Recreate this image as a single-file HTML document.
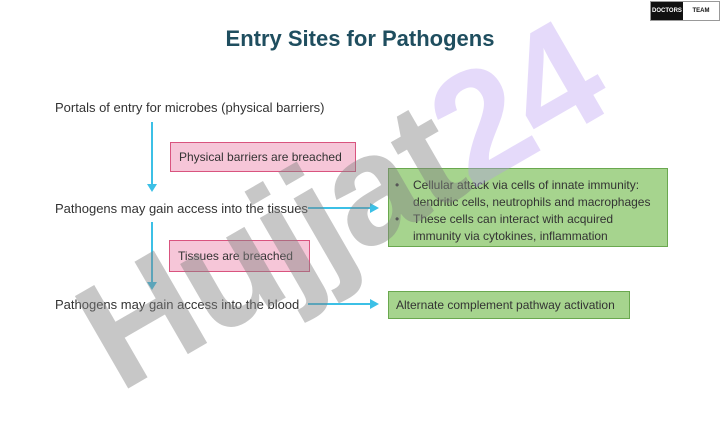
<!DOCTYPE html>
<html><head><style>
body{margin:0;width:720px;height:405px;background:#fff;position:relative;overflow:hidden;font-family:"Liberation Sans",sans-serif;}
.t{position:absolute;font-size:13px;color:#333;white-space:nowrap;}
.box{position:absolute;box-sizing:border-box;font-size:12px;color:#333;white-space:nowrap;}
.pink{background:#f6c6d8;border:1px solid #d9547f;}
.green{background:#a6d48e;border:1px solid #6aa84f;}
</style></head><body>
<div style="position:absolute;left:650px;top:1px;width:68px;height:18px;border:1px solid #999;display:flex;font-size:6px;font-weight:bold;">
<div style="background:#111;color:#fff;width:32px;line-height:18px;text-align:center">DOCTORS</div>
<div style="flex:1;line-height:18px;text-align:center;color:#111">TEAM</div></div>
<div style="position:absolute;left:0;width:720px;top:26px;text-align:center;font-size:22px;font-weight:bold;color:#1f4e5f">Entry Sites for Pathogens</div>
<div class="t" style="left:55px;top:100px">Portals of entry for microbes (physical barriers)</div>
<div class="t" style="left:55px;top:201px">Pathogens may gain access into the tissues</div>
<div class="t" style="left:55px;top:297px">Pathogens may gain access into the blood</div>
<div class="box pink" style="left:170px;top:142px;width:186px;height:30px;padding:7px 0 0 8px">Physical barriers are breached</div>
<div class="box pink" style="left:169px;top:240px;width:141px;height:32px;padding:8px 0 0 8px">Tissues are breached</div>
<div class="box green" style="left:388px;top:168px;width:280px;height:79px;padding:8px 0 0 6px;line-height:17px">
<div style="display:flex"><span style="width:18px">•</span><span>Cellular attack via cells of innate immunity:<br>dendritic cells, neutrophils and macrophages</span></div>
<div style="display:flex"><span style="width:18px">•</span><span>These cells can interact with acquired<br>immunity via cytokines, inflammation</span></div></div>
<div class="box green" style="left:388px;top:291px;width:242px;height:28px;padding:6px 0 0 7px">Alternate complement pathway activation</div>
<svg style="position:absolute;left:0;top:0" width="720" height="405">
<g stroke="#3cc0e6" stroke-width="2" fill="#3cc0e6">
<line x1="152" y1="122" x2="152" y2="186"/><polygon points="147,184 157,184 152,192" stroke="none"/>
<line x1="152" y1="222" x2="152" y2="284"/><polygon points="147,282 157,282 152,290" stroke="none"/>
<line x1="308" y1="208" x2="372" y2="208"/><polygon points="370,203 370,213 379,208" stroke="none"/>
<line x1="308" y1="304" x2="372" y2="304"/><polygon points="370,299 370,309 379,304" stroke="none"/>
</g></svg>
<div style="position:absolute;left:340px;top:205px;transform:translate(-50%,-50%) rotate(-30deg);font-size:155px;font-weight:bold;white-space:nowrap;letter-spacing:-4px"><span style="color:rgba(130,130,130,0.45)">Hujjat</span><span style="color:rgba(180,150,240,0.35)">24</span></div>
</body></html>
